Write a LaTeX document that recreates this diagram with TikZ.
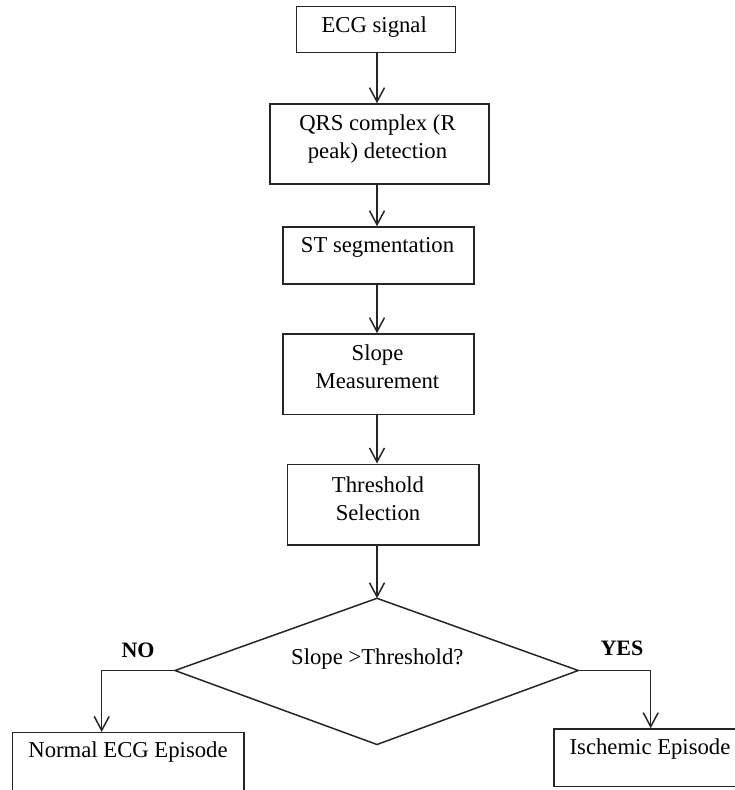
\documentclass[tikz,border=0pt]{standalone}
\usepackage{fontspec}
\setmainfont{Liberation Serif}
\usetikzlibrary{arrows.meta,shapes.geometric}
\begin{document}
\begin{tikzpicture}[x=1pt,y=-1pt,
  box/.style={draw=black!85,line width=1.5pt,rectangle,inner sep=0pt},
  txt/.style={align=center,inner sep=0pt,font=\fontsize{22.7}{28}\selectfont},
  lbl/.style={inner sep=0pt,font=\fontsize{22}{26}\selectfont\bfseries},
  arr/.style={draw=black!85,line width=1.5pt,-{Straight Barb[length=14pt,width=15pt,line width=1.5pt]}},
  ln/.style={draw=black!85,line width=1.5pt}]
\useasboundingbox (0,0) rectangle (735,790);
\coordinate (ax) at (377,0);
% boxes
\node[box,minimum width=159pt,minimum height=45.6pt] (ecg) at (376.2,29.5) {};
\node[box,minimum width=219pt,minimum height=80pt] (qrs) at (379.5,144) {};
\node[box,minimum width=191pt,minimum height=57pt] (st) at (378.5,255.5) {};
\node[box,minimum width=191pt,minimum height=80.7pt] (slope) at (378.5,374.3) {};
\node[box,minimum width=191.3pt,minimum height=80.7pt] (thr) at (383.3,504.6) {};
\node[box,minimum width=231.3pt,minimum height=62pt] (normal) at (128.3,763.7) {};
\node[box,minimum width=186pt,minimum height=57.7pt] (isch) at (647,757.8) {};
% diamond
\coordinate (dt) at (377,598.3);
\coordinate (dr) at (578.3,670.5);
\coordinate (db) at (377,744.5);
\coordinate (dl) at (175,670.5);
\draw[ln] (dt) -- (dr) -- (db) -- (dl) -- cycle;
% texts
\node[txt] (tecg) at (374.2,27) {ECG signal};
\node[txt] (tqrs) at (377.5,139.5) {QRS complex (R\\peak) detection};
\node[txt] (tst) at (377.5,247) {ST segmentation};
\node[txt] (tslope) at (377.5,367) {Slope\\Measurement};
\node[txt] (tthr) at (378,499) {Threshold\\Selection};
\node[txt] (tdia) at (377.3,659.5) {Slope >Threshold?};
\node[txt] (tnormal) at (128,752) {Normal ECG Episode};
\node[txt] (tisch) at (650,749) {Ischemic Episode};
\node[lbl] (no) at (138,650) {NO};
\node[lbl] (yes) at (622,648) {YES};
% connectors
\draw[arr] (ecg.south -| ax) -- (qrs.north -| ax);
\draw[arr] (qrs.south -| ax) -- (st.north -| ax);
\draw[arr] (st.south -| ax) -- (slope.north -| ax);
\draw[arr] (slope.south -| ax) -- (thr.north -| ax);
\draw[arr] (thr.south -| ax) -- (dt);
\coordinate (nx) at (101.7,0);
\coordinate (yx) at (650.7,0);
\draw[arr] (dl) -- (dl -| nx) -- (normal.north -| nx);
\draw[arr] (dr) -- (dr -| yx) -- (isch.north -| yx);
\end{tikzpicture}
\end{document}
